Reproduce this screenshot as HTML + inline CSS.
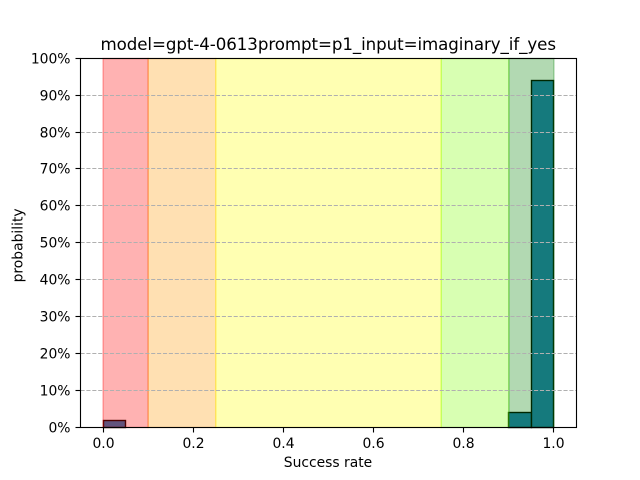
<!DOCTYPE html>
<html>
<head>
<meta charset="utf-8">
<style>
html,body{margin:0;padding:0;background:#fff;}
svg{display:block;}
text{font-family:"DejaVu Sans","Liberation Sans",sans-serif;fill:#000;}
</style>
</head>
<body>
<svg id="chart" width="640" height="480" viewBox="0 0 640 480" xmlns="http://www.w3.org/2000/svg">
<rect x="0" y="0" width="640" height="480" fill="#ffffff"/>
<text x="100.5" y="50" font-size="16.67" textLength="455.5" lengthAdjust="spacing">model=gpt-4-0613prompt=p1_input=imaginary_if_yes</text>
<text x="328" y="467" font-size="13.89" text-anchor="middle">Success rate</text>
<text transform="translate(22.5 245.4) rotate(-90)" font-size="13.89" text-anchor="middle">probability</text>
</svg>
<script>
var zoneStarts = [0, 0.1, 0.25, 0.75, 0.9];
var zoneEnds = [0.1, 0.25, 0.75, 0.9, 1];
var zoneColors = ['#ff0000', '#ff9900', '#ffff00', '#7fff00', '#008000'];
var zoneNames = ['red', 'orange', 'yellow', 'light-green', 'green'];
var binStarts = [0, 0.9, 0.95];
var binEnds = [0.05, 0.95, 1];
var binValues = [2, 4, 94];
var binColor = '#1f77b4';
var xTicks = [0, 0.2, 0.4, 0.6, 0.8, 1];
var yTicks = [0, 10, 20, 30, 40, 50, 60, 70, 80, 90, 100];

var svg = document.getElementById('chart');
var NS = 'http://www.w3.org/2000/svg';
var left = 80.5, right = 576.5, top_ = 58.5, bottom = 427.5;
var plotTop = 57.6, plotBottom = 427.2;
var xMin = -0.05, xMax = 1.05, yMin = 0, yMax = 100;
function xScale(v) { return left + (v - xMin) / (xMax - xMin) * (right - left); }
function yScale(v) { return plotBottom - (v - yMin) / (yMax - yMin) * (plotBottom - plotTop); }
function snap(v) { return Math.floor(v) + 0.5; }
function snapY(v) { return Math.round(v) + 0.5; }
function make(tag, attrs) {
  var el = document.createElementNS(NS, tag);
  for (var k in attrs) { el.setAttribute(k, attrs[k]); }
  svg.appendChild(el);
  return el;
}

binStarts.forEach(function (s, i) {
  var barTop = snapY(yScale(binValues[i]));
  var el = make('rect', { x: snap(xScale(s)), y: barTop, width: snap(xScale(binEnds[i])) - snap(xScale(s)), height: bottom - barTop, fill: binColor, stroke: '#000000', 'stroke-width': 1.39 });
  
  
});

zoneStarts.forEach(function (s, i) {
  var el = make('rect', { x: xScale(s), y: top_, width: xScale(zoneEnds[i]) - xScale(s), height: bottom - top_, fill: zoneColors[i], 'fill-opacity': 0.3, stroke: zoneColors[i], 'stroke-opacity': 0.3, 'stroke-width': 1.39 });
  
  
});

yTicks.forEach(function (t) {
  var y = t === 0 ? bottom : (t === 100 ? top_ : snapY(yScale(t)));
  if (t > 0 && t < 100) {
    var g = make('line', { x1: left, x2: right, y1: y, y2: y, stroke: '#b0b0b0', 'stroke-width': 1.11, 'stroke-dasharray': '4.11 1.78' });
    
    
  }
  var m = make('line', { x1: left - 5, x2: left, y1: y, y2: y, stroke: '#000', 'stroke-width': 1.11 });
  
  
  var l = make('text', { x: left - 10, y: y + 5, 'font-size': 13.89, 'text-anchor': 'end' });
  
  
  l.textContent = t + '%';
});

xTicks.forEach(function (t) {
  var x = snap(xScale(t));
  var m = make('line', { x1: x, x2: x, y1: bottom, y2: bottom + 5, stroke: '#000', 'stroke-width': 1.11 });
  
  
  var l = make('text', { x: x, y: bottom + 20.5, 'font-size': 13.89, 'text-anchor': 'middle' });
  
  
  l.textContent = t.toFixed(1);
});

var frame = make('rect', { x: left, y: top_, width: right - left, height: bottom - top_, fill: 'none', stroke: '#000', 'stroke-width': 1.11 });


</script>
</body>
</html>
